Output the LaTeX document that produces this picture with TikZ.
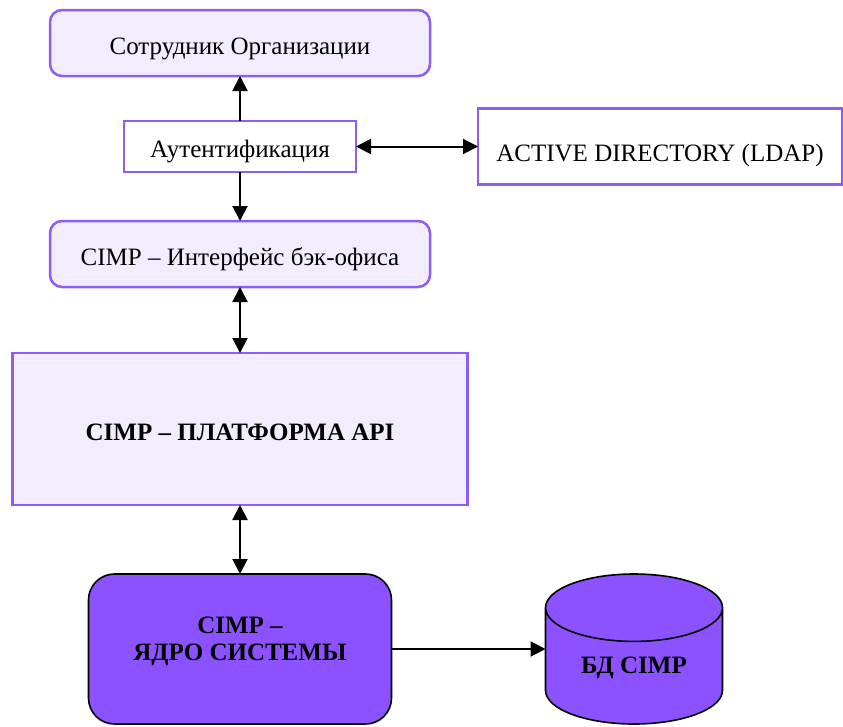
\documentclass[tikz,border=0pt]{standalone}
\usepackage{fontspec}
\setmainfont{Liberation Serif}
\usetikzlibrary{arrows.meta,positioning,shapes.geometric}
\definecolor{cimpline}{RGB}{142,92,247}
\definecolor{cimplight}{RGB}{242,236,253}
\definecolor{cimpcore}{RGB}{140,82,255}
\tikzset{
    %Define standard arrow tip
    >={Triangle[length=15pt,width=15pt]},
    %Define style for boxes
    lightbox/.style={
           rectangle,
           rounded corners=12pt,
           draw=cimpline, line width=2.5pt,
           minimum width=380pt,
           minimum height=66pt,
           outer sep=0pt,
           text height=22pt, text depth=0pt,
           font=\fontsize{25}{30}\selectfont,
           text centered,
           fill=cimplight
           },
    plainbox/.style={
           rectangle,
           draw=cimpline, line width=2.5pt,
           outer sep=0pt,
           text height=22pt, text depth=0pt,
           font=\fontsize{25}{30}\selectfont,
           text centered,
           fill=white
           },
    apibox/.style={
           rectangle,
           draw=cimpline, line width=2.5pt,
           minimum width=455pt,
           minimum height=152pt,
           outer sep=0pt,
           text height=22pt, text depth=0pt,
           font=\fontsize{25}{30}\selectfont\bfseries,
           text centered,
           fill=cimplight
           },
    corebox/.style={
           rectangle,
           rounded corners=26pt,
           draw=black, line width=1.6pt,
           minimum width=303pt,
           minimum height=150pt,
           outer sep=0pt,
           align=center,
           text height=22pt, text depth=0pt,
           font=\fontsize{25}{27}\selectfont\bfseries,
           fill=cimpcore
           },
    dbcyl/.style={
           cylinder,
           shape border rotate=90,
           aspect=0.6,
           draw=black, line width=1.6pt,
           minimum width=177pt,
           minimum height=150pt,
           outer sep=0pt,
           text height=5pt, text depth=0pt,
           font=\fontsize{25}{30}\selectfont\bfseries,
           fill=cimpcore
           },
    % Define arrow style
    conn/.style={
           draw=black,
           line width=2pt}
}

\begin{document}
\begin{tikzpicture}[x=1pt,y=-1pt]
\useasboundingbox (0,0) rectangle (843,726);
 %nodes
\node[lightbox] (staff) at (240,43) {Сотрудник Организации};
\node[plainbox, minimum width=232pt, minimum height=51pt, below=45pt of staff] (auth) {Аутентификация};
\node[plainbox, minimum width=364pt, minimum height=76pt, text height=30pt, right=122pt of auth] (ldap) {ACTIVE DIRECTORY (LDAP)};
\node[lightbox, below=49pt of auth] (iface) {CIMP – Интерфейс бэк-офиса};
\node[apibox, below=66pt of iface] (api) {CIMP – ПЛАТФОРМА API};
\node[corebox, below=69pt of api] (core) {CIMP –\\ЯДРО СИСТЕМЫ};
\node[dbcyl, anchor=shape center] (db) at (634,649) {БД CIMP};
\coordinate (dbside) at ([xshift=-88.5pt]db.shape center);

 \path
    (auth) edge[conn,->] (staff)
           edge[conn,->] (iface)
           edge[conn,<->] (ldap)
    (iface) edge[conn,<->] (api)
    (api) edge[conn,<->] (core)
    (core.east) edge[conn,->] (core.east -| dbside);

\end{tikzpicture}
\end{document}
